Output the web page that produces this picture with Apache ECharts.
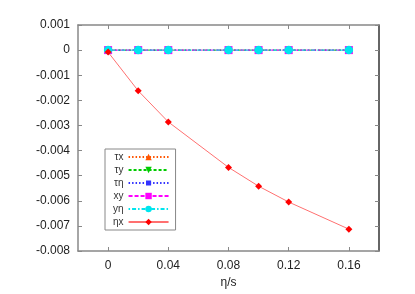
<!DOCTYPE html>
<html><head><meta charset="utf-8">
<script src="https://cdn.jsdelivr.net/npm/echarts@6/dist/echarts.min.js"></script>
<style>html,body{margin:0;padding:0;background:#fff}#c{width:415px;height:294px}</style>
</head><body><div id="c"></div>
<script>
var etaS = [0, 0.02, 0.04, 0.08, 0.1, 0.12, 0.16];
var tauX = [0, 0, 0, 0, 0, 0, 0];
var tauY = [0, 0, 0, 0, 0, 0, 0];
var tauEta = [0, 0, 0, 0, 0, 0, 0];
var xy = [0, 0, 0, 0, 0, 0, 0];
var yEta = [0, 0, 0, 0, 0, 0, 0];
var etaX = [-0.00008, -0.00162, -0.00286, -0.00467, -0.00542, -0.00605, -0.00713];
var xTicks = [0, 0.04, 0.08, 0.12, 0.16];
var seriesNames = ['τx', 'τy', 'τη', 'xy', 'yη', 'ηx'];

function pairs(ys){ return etaS.map(function(x,i){ return [x, ys[i]]; }); }
var font = 'Liberation Sans, Arial, sans-serif';
var axisCol = '#888';
var starPath = 'path://M5,0 L5,10 M0,5 L10,5 M1.5,1.5 L8.5,8.5 M8.5,1.5 L1.5,8.5 M1,1 L9,1 L9,9 L1,9 Z';

function mk(name, ys, color, symbol, size, ltype, lcolor){
  return {
    name: name, type: 'line', data: pairs(ys), xAxisIndex: 0, yAxisIndex: 0,
    symbol: symbol, symbolSize: size,
    itemStyle: {color: color},
    lineStyle: {color: lcolor || color, width: 1, type: ltype},
    emphasis: {disabled: true}, animation: false
  };
}

var chart = echarts.init(document.getElementById('c'));
chart.setOption({
  animation: false,
  grid: {left: 78, right: 36, top: 25, bottom: 43},
  xAxis: [{
    type: 'value', min: -0.02, max: 0.18, position: 'bottom',
    name: 'η/s', nameLocation: 'middle', nameGap: 24,
    nameTextStyle: {fontFamily: font, fontSize: 12, color: '#222'},
    axisLine: {onZero: false, lineStyle: {color: axisCol, width: 1.5}},
    axisTick: {inside: true, length: 4, customValues: xTicks, lineStyle: {color: axisCol}},
    axisLabel: {customValues: xTicks, fontFamily: font, fontSize: 12, color: '#222', margin: 9,
      formatter: function(v){ return Math.abs(v) < 1e-9 ? '0' : (+v).toFixed(2); }},
    splitLine: {show: false}
  }, {
    type: 'value', min: -0.02, max: 0.18, position: 'top',
    axisLine: {onZero: false, lineStyle: {color: axisCol, width: 1.5}},
    axisTick: {inside: true, length: 4, customValues: xTicks, lineStyle: {color: axisCol}},
    axisLabel: {show: false}, splitLine: {show: false}
  }],
  yAxis: [{
    type: 'value', min: -0.008, max: 0.001, interval: 0.001, position: 'left',
    axisLine: {show: true, onZero: false, lineStyle: {color: axisCol, width: 1.5}},
    axisTick: {show: true, inside: true, length: 4, lineStyle: {color: axisCol}},
    axisLabel: {fontFamily: font, fontSize: 12, color: '#222', margin: 8,
      formatter: function(v){ return Math.abs(v) < 1e-9 ? '0' : (+v).toFixed(3); }},
    splitLine: {show: false}
  }, {
    type: 'value', min: -0.008, max: 0.001, interval: 0.001, position: 'right',
    axisLine: {show: true, onZero: false, lineStyle: {color: '#333', width: 1.5}},
    axisTick: {show: true, inside: true, length: 4, lineStyle: {color: axisCol}},
    axisLabel: {show: false}, splitLine: {show: false}
  }],
  legend: {
    orient: 'vertical', left: 105, top: 149, align: 'right',
    itemWidth: 40, itemHeight: 8, itemGap: 3,
    padding: [3, 6, 3, 8],
    borderColor: '#888', borderWidth: 1, backgroundColor: '#fff',
    textStyle: {fontFamily: font, fontSize: 10, color: '#333'},
    data: seriesNames
  },
  series: [
    mk('τx', tauX, '#ff5500', 'triangle', 7, [1.5, 2]),
    mk('τy', tauY, '#00cc00', 'path://M0,0 L10,0 L5,9 Z', 7, [3, 2]),
    mk('τη', tauEta, '#3333ff', starPath, 7, [1.5, 2]),
    mk('xy', xy, '#ff00ff', 'rect', 8, [4, 2]),
    mk('yη', yEta, '#00e5ee', 'circle', 8.5, [1.5, 2, 4, 2]),
    mk('ηx', etaX, '#ff0000', 'diamond', 7, 'solid', '#ff7070')
  ]
});
</script></body></html>
